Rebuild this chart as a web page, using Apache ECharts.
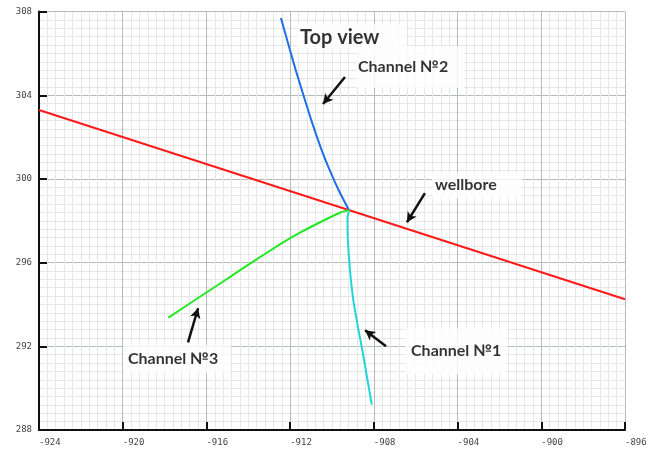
<!DOCTYPE html>
<html>
<head>
<meta charset="utf-8">
<script src="https://cdn.jsdelivr.net/npm/echarts@6/dist/echarts.min.js"></script>
<style>
  html, body { margin: 0; padding: 0; background: #fff; }
  #chart { width: 650px; height: 449px; }
</style>
</head>
<body>
<div id="chart"></div>
<script>
// Axis ranges (plan coordinates, top view)
const xTicks = [-924, -920, -916, -912, -908, -904, -900, -896];
const yTicks = [288, 292, 296, 300, 304, 308];

// Wellbore trace
const wellbore = [[-924, 303.3], [-896, 294.25]];

// Fracture channels starting from the wellbore crossing
const channel1 = [
  [-909.19, 298.51], [-909.26, 298.12], [-909.24, 297.07], [-909.14, 295.63],
  [-908.98, 294.20], [-908.73, 292.76], [-908.55, 291.81], [-908.30, 290.37],
  [-908.10, 289.22]
];
const channel2 = [
  [-912.44, 307.69], [-911.73, 305.19], [-910.99, 302.81], [-910.49, 301.37],
  [-910.11, 300.42], [-909.68, 299.46], [-909.19, 298.51]
];
const channel3 = [
  [-909.19, 298.51], [-909.57, 298.41], [-910.57, 297.93], [-911.53, 297.43],
  [-912.49, 296.87], [-913.92, 295.95], [-915.11, 295.16], [-916.31, 294.37],
  [-917.82, 293.37]
];

// Callout arrows: [from, to]
const arrows = [
  [[-909.38, 304.87], [-910.43, 303.58]],
  [[-905.56, 299.32], [-906.42, 297.93]],
  [[-907.42, 292.00], [-908.42, 292.77]],
  [[-916.88, 292.19], [-916.40, 293.82]]
];

// Callout texts, anchored at left edge / vertical middle
const noteText = ['Top view', 'Channel №2', 'wellbore', 'Channel №1', 'Channel №3'];
const notePos = [
  [-911.63, 306.78], [-908.81, 305.35], [-905.22, 299.70], [-906.51, 291.76], [-919.99, 291.40]
];

const chart = echarts.init(document.getElementById('chart'));

const labelFont = {
  fontFamily: 'DejaVu Sans Mono',
  fontSize: 9,
  color: '#444'
};

const pads = [[3, 27, 3, 2], [13, 16, 13, 1], [5, 25, 5, 3], [15, 6, 15, 6], [6, 12, 6, 5]];

chart.setOption({
  animation: false,
  backgroundColor: '#fff',
  grid: { left: 39, right: 25, top: 11.6, bottom: 19, containLabel: false },
  xAxis: {
    type: 'value',
    min: xTicks[0],
    max: xTicks[xTicks.length - 1],
    interval: 4,
    axisLine: { show: true, onZero: false, lineStyle: { color: '#111', width: 2 } },
    axisTick: { show: true, inside: true, length: 8, lineStyle: { color: '#111', width: 2 } },
    minorTick: { show: false, splitNumber: 10 },
    splitLine: { show: true, lineStyle: { color: '#b4bcb8', width: 1 } },
    minorSplitLine: { show: true, lineStyle: { color: '#e6e6e6', width: 1 } },
    axisLabel: Object.assign({ margin: 8, align: 'left', showMinLabel: true, showMaxLabel: true }, labelFont)
  },
  yAxis: {
    type: 'value',
    min: yTicks[0],
    max: yTicks[yTicks.length - 1],
    interval: 4,
    axisLine: { show: true, onZero: false, lineStyle: { color: '#111', width: 2 } },
    axisTick: { show: true, inside: true, length: 8, lineStyle: { color: '#111', width: 2 } },
    minorTick: { show: false, splitNumber: 10 },
    splitLine: { show: true, lineStyle: { color: '#b4bcb8', width: 1 } },
    minorSplitLine: { show: true, lineStyle: { color: '#e6e6e6', width: 1 } },
    axisLabel: Object.assign({ margin: 7 }, labelFont)
  },
  series: [
    {
      name: 'wellbore', type: 'line', data: wellbore, showSymbol: false,
      lineStyle: { color: '#ff1a1a', width: 2 }, z: 3
    },
    {
      name: 'Channel №2', type: 'line', data: channel2, showSymbol: false, smooth: 0.15,
      lineStyle: { color: '#1e6fe8', width: 2 }, z: 4
    },
    {
      name: 'Channel №1', type: 'line', data: channel1, showSymbol: false, smooth: 0.15,
      lineStyle: { color: '#22d4da', width: 2 }, z: 4
    },
    {
      name: 'Channel №3', type: 'line', data: channel3, showSymbol: false, smooth: 0.15,
      lineStyle: { color: '#22e822', width: 2 }, z: 4
    },
    {
      name: 'arrows', type: 'line', data: [], z: 6,
      markLine: {
        silent: true,
        symbol: ['none', 'arrow'],
        symbolSize: [8, 10],
        label: { show: false },
        lineStyle: { color: '#111', width: 2.5, type: 'solid' },
        data: arrows.map(a => [{ coord: a[0] }, { coord: a[1] }])
      }
    },
    {
      name: 'notes', type: 'scatter', symbolSize: 0, z: 5,
      data: notePos.map((p, i) => ({
        value: p,
        label: {
          show: true,
          formatter: noteText[i],
          position: [0, 0],
          align: 'left',
          verticalAlign: 'middle',
          fontFamily: 'Lato',
          fontWeight: 'bold',
          fontSize: i === 0 ? 20 : 16,
          color: '#000',
          backgroundColor: '#fff',
          padding: pads[i]
        }
      }))
    }
  ]
});
</script>
</body>
</html>
